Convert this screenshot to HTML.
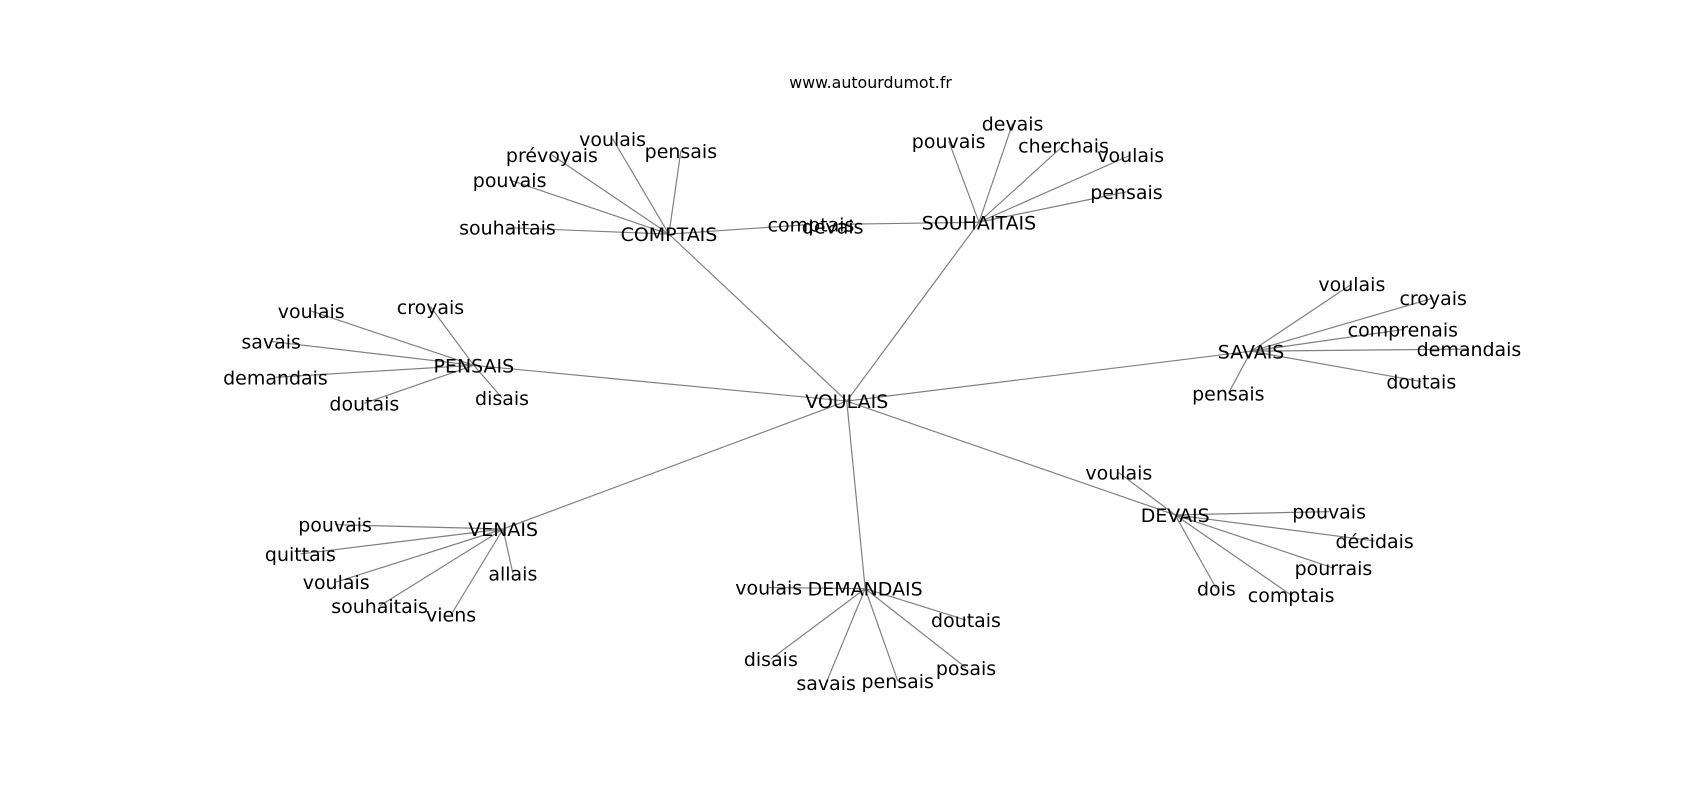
<!DOCTYPE html>
<html><head><meta charset="utf-8"><style>
html,body{margin:0;padding:0;background:#fff;width:1700px;height:800px;overflow:hidden}
svg{display:block}
text{font-family:"DejaVu Sans","Liberation Sans",sans-serif;fill:#000;text-anchor:middle;dominant-baseline:central}
line{stroke:#808080;stroke-width:1.1}
</style></head><body>
<svg width="1700" height="800" viewBox="0 0 1568 738" xmlns="http://www.w3.org/2000/svg">
<g id="edges">
<line x1="781" y1="370" x2="617" y2="216"/>
<line x1="781" y1="370" x2="903" y2="205"/>
<line x1="781" y1="370" x2="437" y2="337"/>
<line x1="781" y1="370" x2="1154" y2="324"/>
<line x1="781" y1="370" x2="464" y2="488"/>
<line x1="781" y1="370" x2="798" y2="543"/>
<line x1="781" y1="370" x2="1084" y2="475"/>
<line x1="617" y1="216" x2="468" y2="210"/>
<line x1="617" y1="216" x2="470" y2="166"/>
<line x1="617" y1="216" x2="509" y2="143"/>
<line x1="617" y1="216" x2="565" y2="128"/>
<line x1="617" y1="216" x2="628" y2="139"/>
<line x1="617" y1="216" x2="748" y2="207"/>
<line x1="903" y1="205" x2="768" y2="207"/>
<line x1="903" y1="205" x2="875" y2="130"/>
<line x1="903" y1="205" x2="934" y2="114"/>
<line x1="903" y1="205" x2="981" y2="134"/>
<line x1="903" y1="205" x2="1043" y2="143"/>
<line x1="903" y1="205" x2="1039" y2="177"/>
<line x1="437" y1="337" x2="397" y2="283"/>
<line x1="437" y1="337" x2="287" y2="287"/>
<line x1="437" y1="337" x2="250" y2="315"/>
<line x1="437" y1="337" x2="254" y2="348"/>
<line x1="437" y1="337" x2="336" y2="372"/>
<line x1="437" y1="337" x2="463" y2="367"/>
<line x1="1154" y1="324" x2="1247" y2="262"/>
<line x1="1154" y1="324" x2="1322" y2="275"/>
<line x1="1154" y1="324" x2="1294" y2="304"/>
<line x1="1154" y1="324" x2="1355" y2="322"/>
<line x1="1154" y1="324" x2="1311" y2="352"/>
<line x1="1154" y1="324" x2="1133" y2="363"/>
<line x1="464" y1="488" x2="309" y2="484"/>
<line x1="464" y1="488" x2="277" y2="511"/>
<line x1="464" y1="488" x2="310" y2="537"/>
<line x1="464" y1="488" x2="350" y2="559"/>
<line x1="464" y1="488" x2="416" y2="567"/>
<line x1="464" y1="488" x2="473" y2="529"/>
<line x1="798" y1="543" x2="709" y2="542"/>
<line x1="798" y1="543" x2="711" y2="608"/>
<line x1="798" y1="543" x2="762" y2="630"/>
<line x1="798" y1="543" x2="828" y2="628"/>
<line x1="798" y1="543" x2="891" y2="616"/>
<line x1="798" y1="543" x2="891" y2="572"/>
<line x1="1084" y1="475" x2="1032" y2="436"/>
<line x1="1084" y1="475" x2="1226" y2="472"/>
<line x1="1084" y1="475" x2="1268" y2="499"/>
<line x1="1084" y1="475" x2="1230" y2="524"/>
<line x1="1084" y1="475" x2="1191" y2="549"/>
<line x1="1084" y1="475" x2="1122" y2="543"/>
</g>
<text x="803" y="76" style="font-size:14.6px">www.autourdumot.fr</text>
<g style="font-size:17.5px" transform="translate(0,1)">
<text x="781" y="370">VOULAIS</text>
<text x="617" y="216">COMPTAIS</text>
<text x="903" y="205">SOUHAITAIS</text>
<text x="437" y="337">PENSAIS</text>
<text x="1154" y="324">SAVAIS</text>
<text x="464" y="488">VENAIS</text>
<text x="798" y="543">DEMANDAIS</text>
<text x="1084" y="475">DEVAIS</text>

<text x="468" y="210">souhaitais</text>
<text x="470" y="166">pouvais</text>
<text x="509" y="143">prévoyais</text>
<text x="565" y="128">voulais</text>
<text x="628" y="139">pensais</text>
<text x="748" y="207">comptais</text>
<text x="768" y="209">devais</text>
<text x="875" y="130">pouvais</text>
<text x="934" y="114">devais</text>
<text x="981" y="134">cherchais</text>
<text x="1043" y="143">voulais</text>
<text x="1039" y="177">pensais</text>

<text x="397" y="283">croyais</text>
<text x="287" y="287">voulais</text>
<text x="250" y="315">savais</text>
<text x="254" y="348">demandais</text>
<text x="336" y="372">doutais</text>
<text x="463" y="367">disais</text>

<text x="1247" y="262">voulais</text>
<text x="1322" y="275">croyais</text>
<text x="1294" y="304">comprenais</text>
<text x="1355" y="322">demandais</text>
<text x="1311" y="352">doutais</text>
<text x="1133" y="363">pensais</text>

<text x="309" y="484">pouvais</text>
<text x="277" y="511">quittais</text>
<text x="310" y="537">voulais</text>
<text x="350" y="559">souhaitais</text>
<text x="416" y="567">viens</text>
<text x="473" y="529">allais</text>

<text x="709" y="542">voulais</text>
<text x="711" y="608">disais</text>
<text x="762" y="630">savais</text>
<text x="828" y="628">pensais</text>
<text x="891" y="616">posais</text>
<text x="891" y="572">doutais</text>

<text x="1032" y="436">voulais</text>
<text x="1226" y="472">pouvais</text>
<text x="1268" y="499">décidais</text>
<text x="1230" y="524">pourrais</text>
<text x="1191" y="549">comptais</text>
<text x="1122" y="543">dois</text>
</g>
</svg>
</body></html>
